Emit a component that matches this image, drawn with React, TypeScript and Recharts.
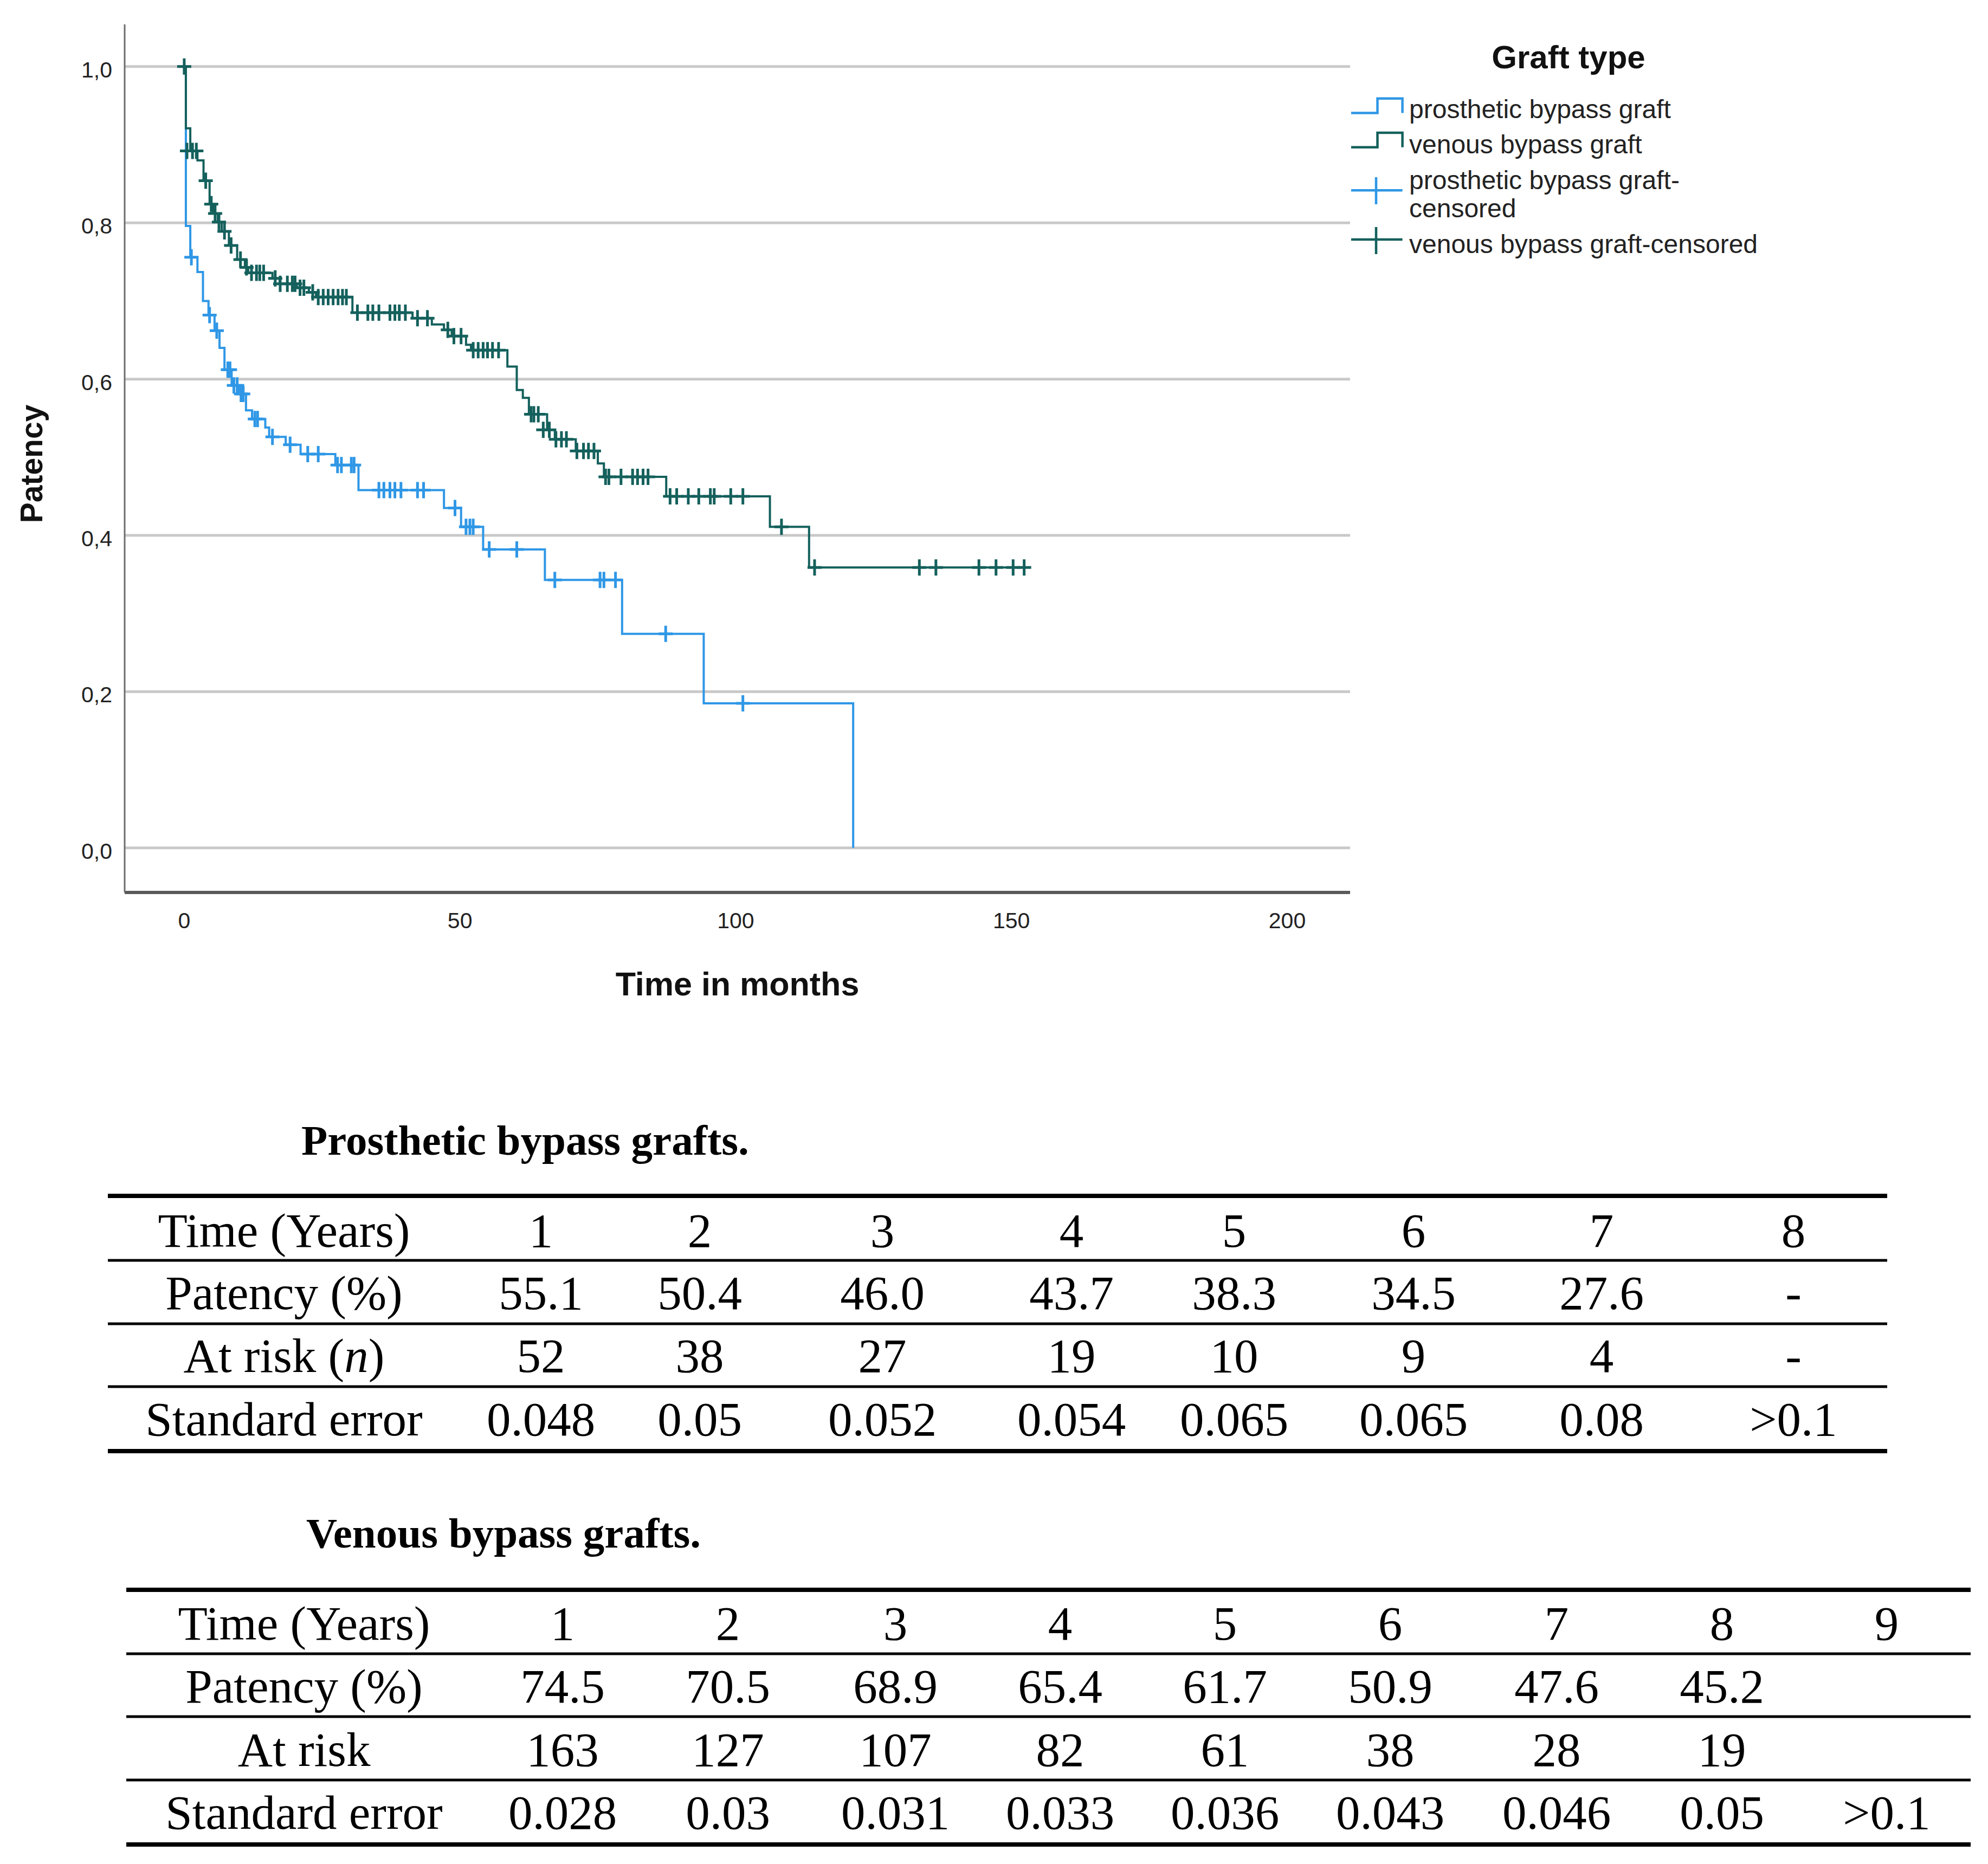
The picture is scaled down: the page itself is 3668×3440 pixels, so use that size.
/**
 * Kaplan-Meier patency curves (prosthetic vs venous bypass grafts)
 * with the two summary tables underneath.
 */
import React from "react";
import {
  ComposedChart,
  Line,
  Scatter,
  XAxis,
  YAxis,
  ReferenceLine,
} from "recharts";

// Series colours
const PROSTHETIC_COLOR = "#2f97e6";
const VENOUS_COLOR = "#14605c";

const SANS = "'Liberation Sans', Arial, sans-serif";
const SERIF = "'Liberation Serif', 'Times New Roman', serif";

// Axis ticks
const X_TICKS = [0, 50, 100, 150, 200];
const Y_TICKS = [0, 0.2, 0.4, 0.6, 0.8, 1.0];

// Prosthetic graft survival steps (months, patency)
const prostheticSteps = [
  { t: 0, p: 1.0 },
  { t: 0.3, p: 0.796 },
  { t: 1.1, p: 0.756 },
  { t: 2.4, p: 0.737 },
  { t: 3.4, p: 0.7 },
  { t: 4.4, p: 0.682 },
  { t: 5.5, p: 0.662 },
  { t: 6.4, p: 0.64 },
  { t: 7.3, p: 0.612 },
  { t: 8.6, p: 0.592 },
  { t: 10.0, p: 0.581 },
  { t: 11.2, p: 0.56 },
  { t: 12.3, p: 0.549 },
  { t: 14.7, p: 0.538 },
  { t: 15.4, p: 0.526 },
  { t: 18.4, p: 0.516 },
  { t: 21.1, p: 0.504 },
  { t: 27.4, p: 0.49 },
  { t: 31.6, p: 0.458 },
  { t: 47.1, p: 0.435 },
  { t: 50.2, p: 0.411 },
  { t: 54.2, p: 0.382 },
  { t: 65.4, p: 0.343 },
  { t: 79.4, p: 0.274 },
  { t: 94.2, p: 0.185 },
  { t: 121.3, p: 0.0 },
];

// Prosthetic graft censored cases
const prostheticCensored = [
  { t: 1.3, p: 0.756 },
  { t: 4.6, p: 0.682 },
  { t: 5.9, p: 0.662 },
  { t: 7.9, p: 0.612 },
  { t: 8.3, p: 0.612 },
  { t: 9.0, p: 0.592 },
  { t: 9.6, p: 0.592 },
  { t: 10.3, p: 0.581 },
  { t: 10.7, p: 0.581 },
  { t: 12.8, p: 0.549 },
  { t: 13.3, p: 0.549 },
  { t: 16.0, p: 0.526 },
  { t: 19.2, p: 0.516 },
  { t: 22.4, p: 0.504 },
  { t: 24.3, p: 0.504 },
  { t: 27.8, p: 0.49 },
  { t: 28.5, p: 0.49 },
  { t: 30.3, p: 0.49 },
  { t: 30.8, p: 0.49 },
  { t: 35.3, p: 0.458 },
  { t: 36.2, p: 0.458 },
  { t: 37.3, p: 0.458 },
  { t: 38.2, p: 0.458 },
  { t: 39.3, p: 0.458 },
  { t: 42.3, p: 0.458 },
  { t: 43.4, p: 0.458 },
  { t: 49.1, p: 0.435 },
  { t: 51.1, p: 0.411 },
  { t: 51.8, p: 0.411 },
  { t: 52.4, p: 0.411 },
  { t: 55.3, p: 0.382 },
  { t: 60.3, p: 0.382 },
  { t: 67.2, p: 0.343 },
  { t: 75.4, p: 0.343 },
  { t: 76.1, p: 0.343 },
  { t: 78.2, p: 0.343 },
  { t: 87.3, p: 0.274 },
  { t: 101.3, p: 0.185 },
];

// Venous graft survival steps (months, patency)
const venousSteps = [
  { t: 0, p: 1.0 },
  { t: 0.3, p: 0.921 },
  { t: 1.1, p: 0.892 },
  { t: 2.4, p: 0.88 },
  { t: 3.5, p: 0.854 },
  { t: 4.6, p: 0.824 },
  { t: 5.3, p: 0.812 },
  { t: 6.1, p: 0.801 },
  { t: 6.8, p: 0.789 },
  { t: 8.1, p: 0.771 },
  { t: 9.6, p: 0.753 },
  { t: 11.0, p: 0.743 },
  { t: 11.6, p: 0.736 },
  { t: 16.0, p: 0.729 },
  { t: 17.3, p: 0.722 },
  { t: 20.4, p: 0.717 },
  { t: 22.6, p: 0.711 },
  { t: 23.9, p: 0.705 },
  { t: 30.5, p: 0.685 },
  { t: 41.4, p: 0.678 },
  { t: 44.9, p: 0.67 },
  { t: 47.1, p: 0.663 },
  { t: 48.5, p: 0.655 },
  { t: 51.1, p: 0.644 },
  { t: 52.0, p: 0.637 },
  { t: 58.6, p: 0.616 },
  { t: 60.3, p: 0.586 },
  { t: 61.4, p: 0.576 },
  { t: 62.5, p: 0.555 },
  { t: 65.8, p: 0.535 },
  { t: 67.2, p: 0.523 },
  { t: 71.0, p: 0.508 },
  { t: 75.0, p: 0.492 },
  { t: 76.1, p: 0.475 },
  { t: 87.4, p: 0.45 },
  { t: 106.2, p: 0.411 },
  { t: 113.3, p: 0.359 },
  { t: 152.5, p: 0.359 },
];

// Venous graft censored cases
const venousCensored = [
  { t: 0, p: 1.0 },
  { t: 0.5, p: 0.892 },
  { t: 1.5, p: 0.892 },
  { t: 2.2, p: 0.892 },
  { t: 3.9, p: 0.854 },
  { t: 4.9, p: 0.824 },
  { t: 5.6, p: 0.812 },
  { t: 6.3, p: 0.801 },
  { t: 7.3, p: 0.789 },
  { t: 8.5, p: 0.771 },
  { t: 10.2, p: 0.753 },
  { t: 11.3, p: 0.743 },
  { t: 12.2, p: 0.736 },
  { t: 13.1, p: 0.736 },
  { t: 13.7, p: 0.736 },
  { t: 14.4, p: 0.736 },
  { t: 16.5, p: 0.729 },
  { t: 17.4, p: 0.722 },
  { t: 18.7, p: 0.722 },
  { t: 19.6, p: 0.722 },
  { t: 20.1, p: 0.722 },
  { t: 21.0, p: 0.717 },
  { t: 21.7, p: 0.717 },
  { t: 23.3, p: 0.711 },
  { t: 24.3, p: 0.705 },
  { t: 25.2, p: 0.705 },
  { t: 26.1, p: 0.705 },
  { t: 27.0, p: 0.705 },
  { t: 27.9, p: 0.705 },
  { t: 28.7, p: 0.705 },
  { t: 29.4, p: 0.705 },
  { t: 31.4, p: 0.685 },
  { t: 33.3, p: 0.685 },
  { t: 34.2, p: 0.685 },
  { t: 35.3, p: 0.685 },
  { t: 37.3, p: 0.685 },
  { t: 38.2, p: 0.685 },
  { t: 39.0, p: 0.685 },
  { t: 40.1, p: 0.685 },
  { t: 42.3, p: 0.678 },
  { t: 44.1, p: 0.678 },
  { t: 47.8, p: 0.663 },
  { t: 48.9, p: 0.655 },
  { t: 50.2, p: 0.655 },
  { t: 52.4, p: 0.637 },
  { t: 53.3, p: 0.637 },
  { t: 54.2, p: 0.637 },
  { t: 55.0, p: 0.637 },
  { t: 55.9, p: 0.637 },
  { t: 57.0, p: 0.637 },
  { t: 62.9, p: 0.555 },
  { t: 63.4, p: 0.555 },
  { t: 64.2, p: 0.555 },
  { t: 65.1, p: 0.535 },
  { t: 66.2, p: 0.535 },
  { t: 67.4, p: 0.523 },
  { t: 68.4, p: 0.523 },
  { t: 69.3, p: 0.523 },
  { t: 71.2, p: 0.508 },
  { t: 72.4, p: 0.508 },
  { t: 73.3, p: 0.508 },
  { t: 74.3, p: 0.508 },
  { t: 76.4, p: 0.475 },
  { t: 77.0, p: 0.475 },
  { t: 79.2, p: 0.475 },
  { t: 81.3, p: 0.475 },
  { t: 82.2, p: 0.475 },
  { t: 83.2, p: 0.475 },
  { t: 84.1, p: 0.475 },
  { t: 88.1, p: 0.45 },
  { t: 89.3, p: 0.45 },
  { t: 91.4, p: 0.45 },
  { t: 93.3, p: 0.45 },
  { t: 95.4, p: 0.45 },
  { t: 96.1, p: 0.45 },
  { t: 99.1, p: 0.45 },
  { t: 101.3, p: 0.45 },
  { t: 108.3, p: 0.411 },
  { t: 114.3, p: 0.359 },
  { t: 133.3, p: 0.359 },
  { t: 136.3, p: 0.359 },
  { t: 144.1, p: 0.359 },
  { t: 147.2, p: 0.359 },
  { t: 150.3, p: 0.359 },
  { t: 152.3, p: 0.359 },
];

// Table: prosthetic bypass grafts
const prostheticYears = ["1", "2", "3", "4", "5", "6", "7", "8"];
const prostheticPatency = ["55.1", "50.4", "46.0", "43.7", "38.3", "34.5", "27.6", "-"];
const prostheticAtRisk = ["52", "38", "27", "19", "10", "9", "4", "-"];
const prostheticStdErr = ["0.048", "0.05", "0.052", "0.054", "0.065", "0.065", "0.08", ">0.1"];

// Table: venous bypass grafts
const venousYears = ["1", "2", "3", "4", "5", "6", "7", "8", "9"];
const venousPatency = ["74.5", "70.5", "68.9", "65.4", "61.7", "50.9", "47.6", "45.2", ""];
const venousAtRisk = ["163", "127", "107", "82", "61", "38", "28", "19", ""];
const venousStdErr = ["0.028", "0.03", "0.031", "0.033", "0.036", "0.043", "0.046", "0.05", ">0.1"];

// Chart geometry (page pixels)
const PAGE_W = 3668;
const PAGE_H = 3440;
const CHART_H = 1900;
const PLOT_LEFT = 230;
const PLOT_RIGHT = 2491;
const PLOT_TOP = 45;
const PLOT_BOTTOM = 1647;

const GRID_COLOR = "#c9c9c9";

/**
 * Censored-case "+" marker
 */
function CensorMark(props: any) {
  const { cx, cy, color } = props;
  if (cx == null || cy == null) return null;
  return (
    <path
      d={`M${cx - 13} ${cy} H${cx + 13} M${cx} ${cy - 15} V${cy + 15}`}
      stroke={color}
      strokeWidth={5}
      fill="none"
    />
  );
}

function YTick(props: any) {
  const { y, payload } = props;
  return (
    <text
      x={PLOT_LEFT - 23}
      y={y + 20}
      textAnchor="end"
      fontSize={41}
      fontFamily={SANS}
      fill="#222"
    >
      {Number(payload.value).toFixed(1).replace(".", ",")}
    </text>
  );
}

function XTick(props: any) {
  const { x, payload } = props;
  return (
    <text
      x={x}
      y={1713}
      textAnchor="middle"
      fontSize={41}
      fontFamily={SANS}
      fill="#222"
    >
      {payload.value}
    </text>
  );
}

/**
 * Kaplan-Meier chart
 */
function PatencyChart() {
  return (
    <ComposedChart
      width={PAGE_W}
      height={CHART_H}
      margin={{
        top: PLOT_TOP,
        right: PAGE_W - PLOT_RIGHT,
        bottom: CHART_H - PLOT_BOTTOM - 100,
        left: PLOT_LEFT - 150,
      }}
    >
      <XAxis
        type="number"
        dataKey="t"
        domain={[-10.8, 211.4]}
        ticks={X_TICKS}
        allowDataOverflow
        height={100}
        tickLine={false}
        tickSize={0}
        axisLine={{ stroke: "#5a5a5a", strokeWidth: 6 }}
        tick={(p: any) => <XTick {...p} />}
      />
      <YAxis
        type="number"
        dataKey="p"
        domain={[-0.057, 1.054]}
        ticks={Y_TICKS}
        allowDataOverflow
        width={150}
        tickLine={false}
        tickSize={0}
        axisLine={{ stroke: "#6e6e6e", strokeWidth: 3 }}
        tick={(p: any) => <YTick {...p} />}
      />
      {/* horizontal gridlines at the y ticks only */}
      {Y_TICKS.map((v) => (
        <ReferenceLine
          key={`grid-${v}`}
          y={v}
          stroke={GRID_COLOR}
          strokeWidth={5}
        />
      ))}
      <Line
        data={prostheticSteps}
        type="stepAfter"
        dataKey="p"
        stroke={PROSTHETIC_COLOR}
        strokeWidth={4}
        dot={false}
        activeDot={false}
        isAnimationActive={false}
      />
      <Line
        data={venousSteps}
        type="stepAfter"
        dataKey="p"
        stroke={VENOUS_COLOR}
        strokeWidth={4}
        dot={false}
        activeDot={false}
        isAnimationActive={false}
      />
      <Scatter
        data={prostheticCensored}
        dataKey="p"
        isAnimationActive={false}
        shape={(p: any) => <CensorMark {...p} color={PROSTHETIC_COLOR} />}
      />
      <Scatter
        data={venousCensored}
        dataKey="p"
        isAnimationActive={false}
        shape={(p: any) => <CensorMark {...p} color={VENOUS_COLOR} />}
      />
    </ComposedChart>
  );
}

/**
 * Legend block on the right of the chart
 */
function GraftLegend() {
  const textProps = { fontSize: 48, fontFamily: SANS, fill: "#222" };
  return (
    <g>
      <text
        x={2894}
        y={126}
        textAnchor="middle"
        fontSize={60}
        fontWeight="bold"
        fontFamily={SANS}
        fill="#111"
      >
        Graft type
      </text>
      <path
        d="M2493 208.6 H2541.5 V181.8 H2587.6 V208.6"
        stroke={PROSTHETIC_COLOR}
        strokeWidth={4.5}
        fill="none"
      />
      <text x={2600} y={218} {...textProps}>
        prosthetic bypass graft
      </text>
      <path
        d="M2493 271.7 H2541.5 V245 H2587.6 V271.7"
        stroke={VENOUS_COLOR}
        strokeWidth={4.5}
        fill="none"
      />
      <text x={2600} y={283} {...textProps}>
        venous bypass graft
      </text>
      <path
        d="M2493 351.3 H2587.6 M2539 327 V377"
        stroke={PROSTHETIC_COLOR}
        strokeWidth={4.5}
        fill="none"
      />
      <text x={2600} y={350} {...textProps}>
        <tspan x={2600} y={349}>
          prosthetic bypass graft-
        </tspan>
        <tspan x={2600} y={401}>
          censored
        </tspan>
      </text>
      <path
        d="M2493 442 H2587.6 M2539 419 V469"
        stroke={VENOUS_COLOR}
        strokeWidth={4.5}
        fill="none"
      />
      <text x={2600} y={467} {...textProps}>
        venous bypass graft-censored
      </text>
    </g>
  );
}

/**
 * Three-line summary table drawn in SVG
 */
function SummaryTable({
  title,
  titleX,
  titleY,
  labelX,
  colX,
  baselines,
  rules,
  x0,
  x1,
  rows,
}: {
  title: string;
  titleX: number;
  titleY: number;
  labelX: number;
  colX: number[];
  baselines: number[];
  rules: number[];
  x0: number;
  x1: number;
  rows: { label: React.ReactNode; values: string[] }[];
}) {
  return (
    <g fontFamily={SERIF} fill="#000">
      <text x={titleX} y={titleY} fontSize={79} fontWeight="bold">
        {title}
      </text>
      {rules.map((ry, i) => (
        <line
          key={`rule-${i}`}
          x1={x0}
          x2={x1}
          y1={ry}
          y2={ry}
          stroke="#000"
          strokeWidth={i === 0 || i === rules.length - 1 ? 8 : 5}
        />
      ))}
      {rows.map((row, r) => (
        <g key={`row-${r}`}>
          <text x={labelX} y={baselines[r]} textAnchor="middle" fontSize={89}>
            {row.label}
          </text>
          {row.values.map((v, c) => (
            <text
              key={`cell-${r}-${c}`}
              x={colX[c]}
              y={baselines[r]}
              textAnchor="middle"
              fontSize={89}
            >
              {v}
            </text>
          ))}
        </g>
      ))}
    </g>
  );
}

export default function App() {
  return (
    <div
      style={{
        position: "absolute",
        left: 0,
        top: 0,
        width: PAGE_W,
        height: PAGE_H,
        background: "#fff",
        overflow: "hidden",
      }}
    >
      <div style={{ position: "absolute", left: 0, top: 0 }}>
        <PatencyChart />
      </div>
      <svg
        width={PAGE_W}
        height={PAGE_H}
        style={{ position: "absolute", left: 0, top: 0, pointerEvents: "none" }}
      >
        {/* axis titles */}
        <text
          transform="translate(78 856) rotate(-90)"
          textAnchor="middle"
          fontSize={57}
          fontWeight="bold"
          fontFamily={SANS}
          fill="#111"
        >
          Patency
        </text>
        <text
          x={(PLOT_LEFT + PLOT_RIGHT) / 2}
          y={1837}
          textAnchor="middle"
          fontSize={61}
          fontWeight="bold"
          fontFamily={SANS}
          fill="#111"
        >
          Time in months
        </text>

        <GraftLegend />

        <SummaryTable
          title="Prosthetic bypass grafts."
          titleX={556}
          titleY={2131}
          labelX={524}
          colX={[998, 1291, 1628, 1977, 2277, 2608, 2955, 3309]}
          baselines={[2301, 2416, 2532, 2649]}
          rules={[2207, 2326, 2443, 2559, 2678]}
          x0={199}
          x1={3482}
          rows={[
            { label: "Time (Years)", values: prostheticYears },
            { label: "Patency (%)", values: prostheticPatency },
            {
              label: (
                <>
                  At risk (<tspan fontStyle="italic">n</tspan>)
                </>
              ),
              values: prostheticAtRisk,
            },
            { label: "Standard error", values: prostheticStdErr },
          ]}
        />

        <SummaryTable
          title="Venous bypass grafts."
          titleX={565}
          titleY={2856}
          labelX={561}
          colX={[1038, 1343, 1652, 1956, 2260, 2565, 2872, 3177, 3481]}
          baselines={[3026, 3142, 3259, 3375]}
          rules={[2934, 3052, 3168, 3285, 3404]}
          x0={233}
          x1={3636}
          rows={[
            { label: "Time (Years)", values: venousYears },
            { label: "Patency (%)", values: venousPatency },
            { label: "At risk", values: venousAtRisk },
            { label: "Standard error", values: venousStdErr },
          ]}
        />
      </svg>
    </div>
  );
}
